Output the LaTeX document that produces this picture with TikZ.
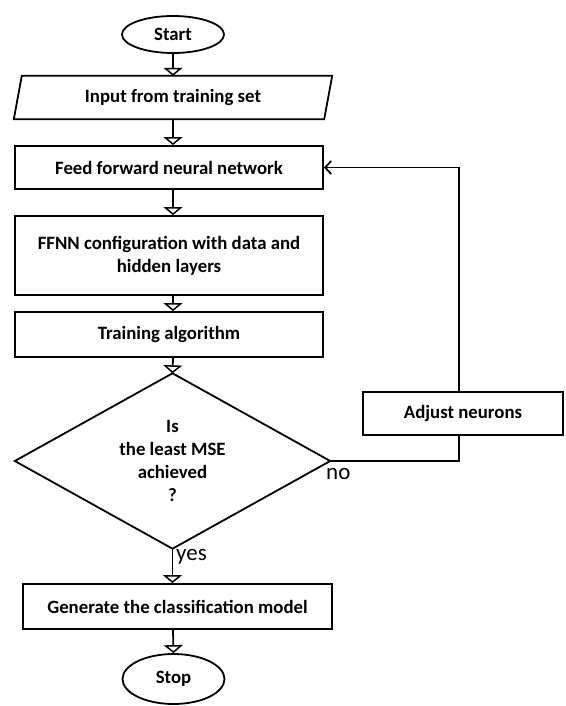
\documentclass[tikz,border=0pt]{standalone}
\usepackage{fontspec}
\setmainfont{Carlito}
\usetikzlibrary{arrows.meta,shapes.geometric}
\begin{document}
\begin{tikzpicture}[x=1pt,y=-1pt,
  lw/.style={line width=1.8pt},
  txt/.style={font=\fontsize{18.8}{23}\selectfont\bfseries, align=center, inner sep=0pt},
  proc/.style={txt, lw, draw, fill=white, rectangle},
  term/.style={txt, lw, draw, fill=white, ellipse, minimum width=102pt},
  flow/.style={lw, -{Triangle[open, width=19pt, length=8pt, line width=1.5pt]}},
  back/.style={lw, -{Straight Barb[length=6pt, width=13pt, line width=1.8pt]}},
  lbl/.style={font=\fontsize{23}{26}\selectfont, inner sep=0pt}
]
\useasboundingbox (0,0) rectangle (565,706);
\fill[white] (0,0) rectangle (565,706);

\node[term, minimum height=37pt] (start) at (173,34.5) {Start};
\node[txt, minimum width=310pt, minimum height=43pt] (input) at (173,97.5) {Input from training set};
\draw[lw] ([xshift=4pt]input.north west) -- ([xshift=4pt]input.north east)
  -- ([xshift=-4pt]input.south east) -- ([xshift=-4pt]input.south west) -- cycle;
\node[proc, minimum width=308pt, minimum height=43pt] (ffn) at (169,167.5) {Feed forward neural network};
\node[proc, minimum width=308pt, minimum height=79pt] (cfg) at (169,255.5) {FFNN configuration with data and\\hidden layers};
\node[proc, minimum width=308pt, minimum height=45pt] (train) at (169,334.5) {Training algorithm};
\node[txt, minimum width=315pt, minimum height=175pt] (dec) at (172.5,461) {Is\\the least MSE\\achieved\\?};
\draw[lw, line join=miter] (dec.north) -- (dec.east) -- (dec.south) -- (dec.west) -- cycle;
\node[proc, minimum width=200pt, minimum height=43pt] (adj) at (463,413.5) {Adjust neurons};
\node[proc, minimum width=309pt, minimum height=45pt] (gen) at (177.5,606.5) {Generate the classification model};
\node[term, minimum height=50pt] (stop) at (173.5,679) {Stop};

\draw[flow] (start.south) -- (start.south |- input.north);
\draw[flow] (start.south |- input.south) -- (start.south |- ffn.north);
\draw[flow] (start.south |- ffn.south) -- (start.south |- cfg.north);
\draw[flow] (start.south |- cfg.south) -- (start.south |- train.north);
\draw[flow] (start.south |- train.south) -- (dec.north);
\draw[flow] (dec.south) -- (dec.south |- gen.north);
\draw[flow] (start.south |- gen.south) -- (stop.north);

\draw[lw] (dec.east) -| ([xshift=-4pt]adj.south);
\draw[back] ([xshift=-4pt]adj.north) |- (ffn.east);

\node[lbl, anchor=north west] (no) at (326,468) {no};
\node[lbl, anchor=north west] (yes) at (176,549) {yes};
\end{tikzpicture}
\end{document}
